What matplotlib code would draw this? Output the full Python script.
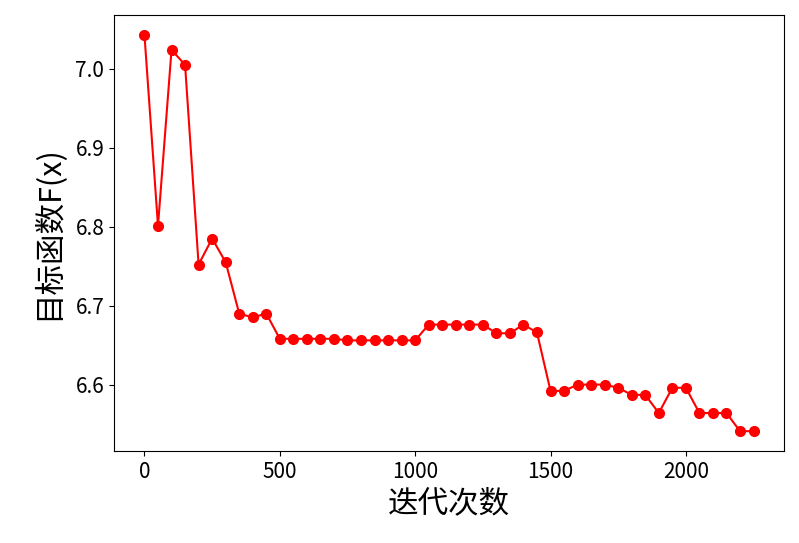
import matplotlib
matplotlib.use("Agg")
import matplotlib.pyplot as plt

plt.rcParams['font.family'] = ['Noto Sans CJK SC', 'DejaVu Sans']
plt.rcParams['axes.unicode_minus'] = False

iters = list(range(0, 2300, 50))
values = [7.043, 6.801, 7.024, 7.005, 6.752, 6.785, 6.755, 6.690, 6.685, 6.690,
          6.658, 6.658, 6.658, 6.658, 6.658,
          6.656, 6.656, 6.656, 6.656, 6.656, 6.656,
          6.676, 6.676, 6.676, 6.676, 6.676,
          6.665, 6.665, 6.676, 6.666,
          6.592, 6.592, 6.600, 6.600, 6.600, 6.596, 6.587, 6.587, 6.564,
          6.596, 6.596, 6.564, 6.564, 6.564, 6.541, 6.541]

fig = plt.figure(figsize=(7.99, 5.43), dpi=100)
ax = fig.add_axes([114/799, 1-451/543, 670/799, 436/543])
ax.plot(iters, values, color='red', marker='o', markersize=7)
ax.set_xlabel('迭代次数', fontsize=22)
ax.set_ylabel('目标函数F(x)', fontsize=22, labelpad=8)
ax.tick_params(labelsize=15)
ax.set_xticks([0, 500, 1000, 1500, 2000])
ax.set_yticks([6.6, 6.7, 6.8, 6.9, 7.0])
fig.savefig('out.png', dpi=100)
